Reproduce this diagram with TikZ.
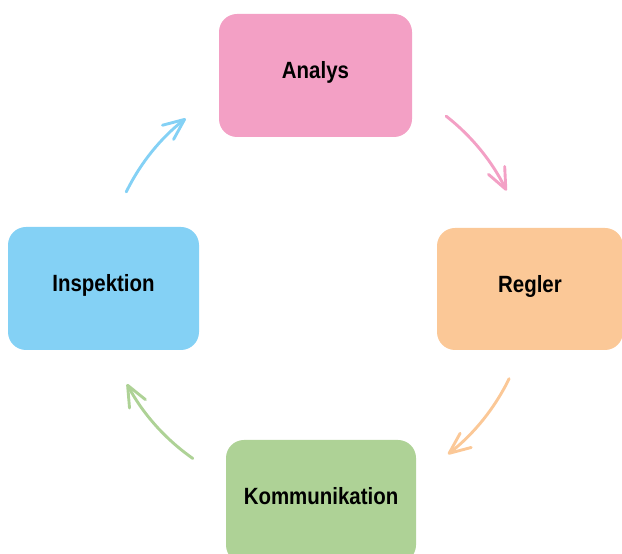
\documentclass[tikz,border=0pt]{standalone}
\usepackage{fontspec}
\setmainfont{Liberation Sans}[FakeStretch=0.87]
\usetikzlibrary{arrows.meta}
\definecolor{cpink}{HTML}{F3A0C5}
\definecolor{corange}{HTML}{FBC897}
\definecolor{cblue}{HTML}{84D1F5}
\definecolor{cgreen}{HTML}{AED296}
\tikzset{
  box/.style={rectangle, rounded corners=18pt, draw=none, inner sep=0pt,
    minimum height=123pt, text height=17pt, text depth=10.2pt,
    font=\fontsize{23.5}{28}\selectfont\bfseries, text=black},
  cyc/.style={line width=2.9pt, line cap=round,
    -{Straight Barb[length=21pt,width=18pt,line cap=round,line join=round]}}
}
\begin{document}
\begin{tikzpicture}[x=1pt,y=1pt]
\useasboundingbox (0,0) rectangle (622,554);
\clip (0,0) rectangle (622,554);
\node[box, fill=cpink, minimum width=193pt] (ana) at (315.5,478.5) {Analys};
\node[box, fill=corange, minimum width=186pt, minimum height=122pt] (reg) at (530,265) {Regler};
\node[box, fill=cblue, minimum width=191pt] (ins) at (103.5,265.5) {Inspektion};
\node[box, fill=cgreen, minimum width=190pt] (kom) at (321,52.5) {Kommunikation};
\coordinate (c) at (315,270);
\draw[cyc, draw=cpink] ([shift={(52:213pt)}]c) arc[start angle=52, end angle=26, radius=213pt];
\draw[cyc, draw=corange] ([shift={(-26:216pt)}]c) arc[start angle=-26, end angle=-52, radius=216pt];
\draw[cyc, draw=cgreen] ([shift={(-125:213pt)}]c) arc[start angle=-125, end angle=-152, radius=213pt];
\draw[cyc, draw=cblue] ([shift={(154:210pt)}]c) arc[start angle=154, end angle=128, radius=210pt];
\end{tikzpicture}
\end{document}
